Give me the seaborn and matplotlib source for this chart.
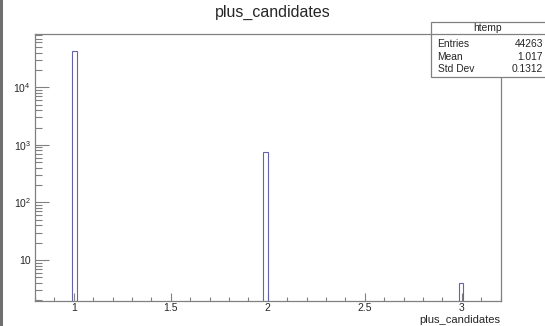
import numpy as np
import pandas as pd
import matplotlib
matplotlib.use("Agg")
import matplotlib.pyplot as plt
import matplotlib.ticker as mticker
from matplotlib.patches import Rectangle
import seaborn as sns

# ---- data ----
values = [1, 2, 3]
counts = [43500, 759, 4]
x_range = (0.8, 3.2)
n_bins = 100
stats_title = "htemp"
stats_labels = ["Entries", "Mean", "Std Dev"]
stats_values = ["44263", "1.017", "0.1312"]
y_ticks = [10, 100, 1000, 10000]
y_ticklabels = ["10", r"$10^{2}$", r"$10^{3}$", r"$10^{4}$"]
x_ticks = [1, 1.5, 2, 2.5, 3]
x_ticklabels = ["1", "1.5", "2", "2.5", "3"]

sns.set_style("white")
plt.rcParams["font.family"] = ["Liberation Sans", "DejaVu Sans"]
plt.rcParams["mathtext.fontset"] = "custom"
plt.rcParams["mathtext.rm"] = "Liberation Sans"
plt.rcParams["mathtext.it"] = "Liberation Sans"

W, H = 545, 326
fig = plt.figure(figsize=(W / 100, H / 100), dpi=100)
fig.patch.set_facecolor("white")

left, right, bottom, top = 35, 500.7, 300.7, 34.3
ax = fig.add_axes([left / W, 1 - bottom / H, (right - left) / W, (bottom - top) / H])

# ROOT-style (TAxis::FindBin) bin assignment, then fill each bin at its centre
xmin, xmax = x_range
edges = np.linspace(xmin, xmax, n_bins + 1)
bw = (xmax - xmin) / n_bins
bin_idx = [int(n_bins * (v - xmin) / (xmax - xmin)) for v in values]
centres = [edges[i] + bw / 2 for i in bin_idx]

df = pd.DataFrame({"x": centres, "w": counts})
sns.histplot(data=df, x="x", weights="w", bins=n_bins, binrange=x_range, fill=False,
             element="bars", color="#6464aa", linewidth=0.8, ax=ax)
ax.set_yscale("log")
ax.set_xlim(*x_range)
ax.set_ylim(1.965, 83200)

frame_c = "#808080"
for s in ax.spines.values():
    s.set_visible(True)
    s.set_color(frame_c)
    s.set_linewidth(0.9)

ax.set_xticks(x_ticks)
ax.set_xticklabels(x_ticklabels)
ax.xaxis.set_minor_locator(mticker.MultipleLocator(0.1))
ax.set_yticks(y_ticks)
ax.set_yticklabels(y_ticklabels)
ax.yaxis.set_minor_locator(mticker.LogLocator(base=10, subs=np.arange(2, 10), numticks=20))
ax.yaxis.set_minor_formatter(mticker.NullFormatter())

ax.tick_params(axis="x", which="major", direction="in", length=5.5, width=0.8,
               color=frame_c, labelsize=7.5, pad=2, bottom=True)
ax.tick_params(axis="x", which="minor", direction="in", length=2.8, width=0.8,
               color=frame_c, bottom=True)
ax.tick_params(axis="y", which="major", direction="in", length=10, width=0.8,
               color=frame_c, labelsize=7.5, pad=3, left=True)
ax.tick_params(axis="y", which="minor", direction="in", length=5, width=0.8,
               color=frame_c, left=True)
ax.set_ylabel("")
ax.set_xlabel("")

# x axis title (right aligned)
fig.text(right / W, 1 - 320 / H, "plus_candidates", ha="right", va="center", fontsize=8)

# main title
fig.text(0.5, 1 - 12 / H, "plus_candidates", ha="center", va="center", fontsize=11.5)

# left gray strip
fig.patches.append(Rectangle((0, 0), 3 / W, 1, transform=fig.transFigure,
                             facecolor="#6e6e6e", edgecolor="none", zorder=5))

# stats box
bx0, bx1, by0, by1, bdiv = 431, 547, 22.3, 76.5, 34.3
fig.patches.append(Rectangle((bx0 / W, 1 - by1 / H), (bx1 - bx0) / W, (by1 - by0) / H,
                             transform=fig.transFigure, facecolor="white",
                             edgecolor=frame_c, linewidth=0.9, zorder=10))
fig.add_artist(plt.Line2D([bx0 / W, bx1 / W], [1 - bdiv / H, 1 - bdiv / H],
                          transform=fig.transFigure, color=frame_c, linewidth=0.9, zorder=11))
fig.text(488 / W, 1 - 28.3 / H, stats_title, ha="center", va="center", fontsize=7.4, zorder=12)
row_y = [44, 57, 69.5]
for lab, val, yy in zip(stats_labels, stats_values, row_y):
    fig.text(437.5 / W, 1 - yy / H, lab, ha="left", va="center", fontsize=7.4, zorder=12)
    fig.text(543 / W, 1 - yy / H, val, ha="right", va="center", fontsize=7.4, zorder=12)

fig.savefig("out.png", dpi=100)
